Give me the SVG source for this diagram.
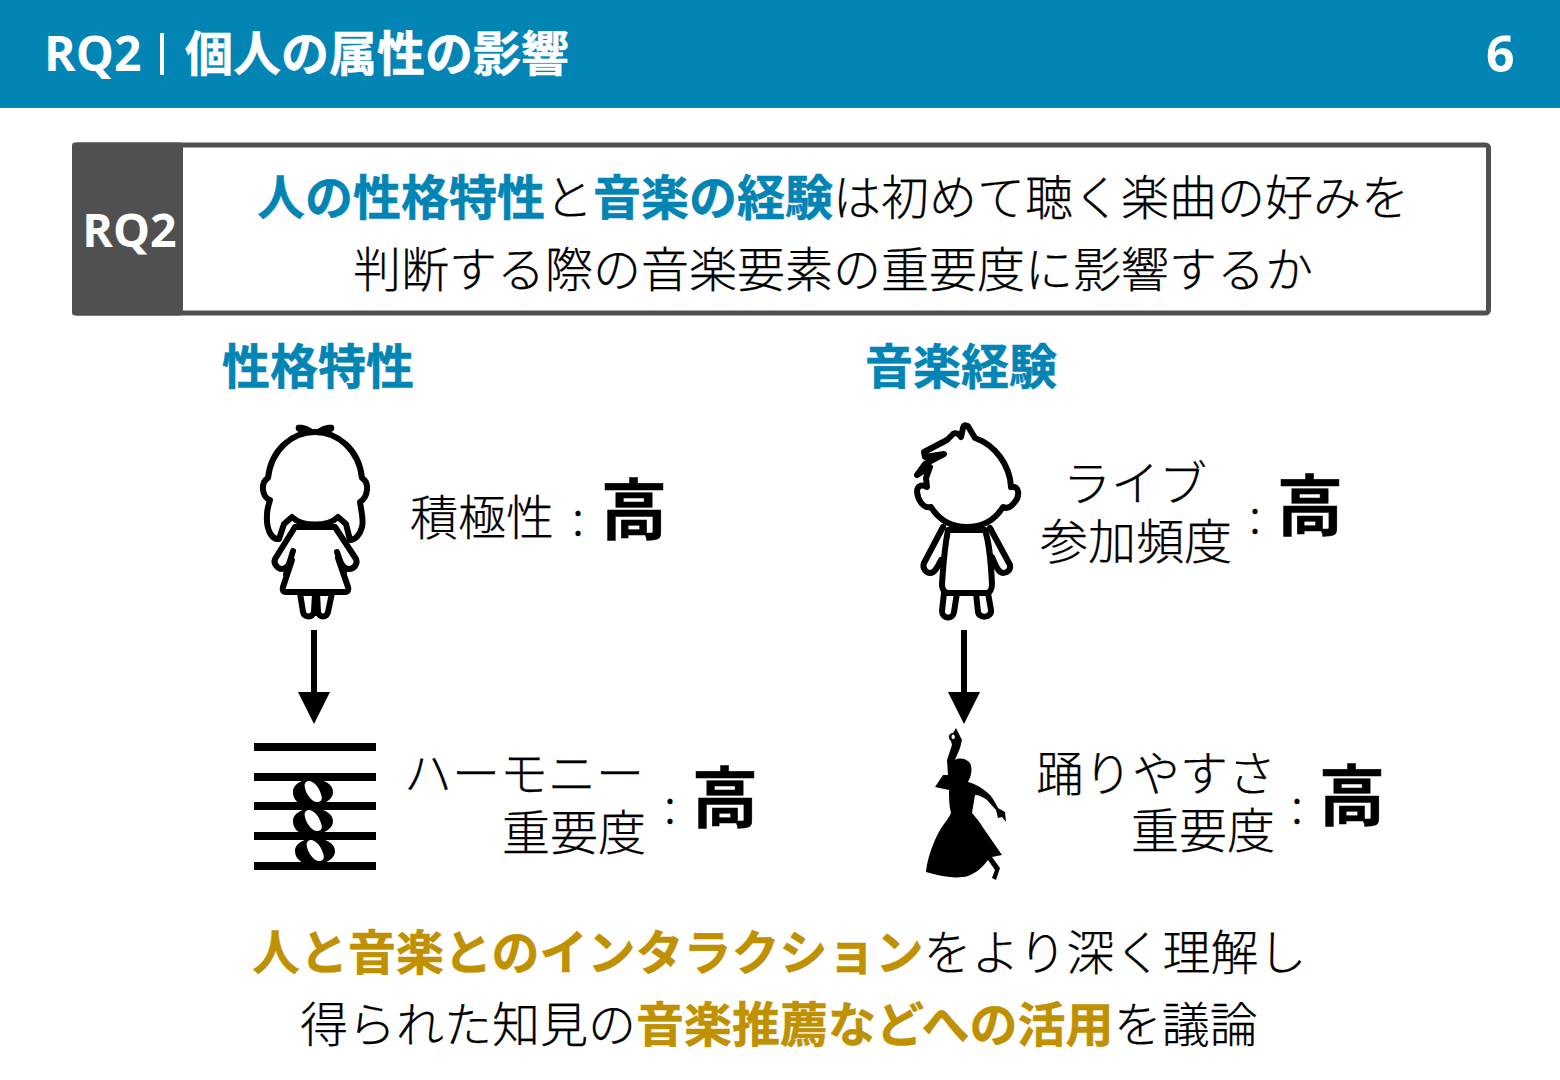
<svg xmlns="http://www.w3.org/2000/svg" width="1560" height="1080" viewBox="0 0 1560 1080">
<defs>
<style>
text{font-family:"Noto Sans CJK JP","Noto Sans",sans-serif;font-size:48px;font-weight:300;fill:#000;stroke:#000;stroke-width:.25px}
.w{fill:#fff;stroke:#fff;stroke-width:.5px;font-weight:700}
.blue{fill:#0284b5;stroke:#0284b5;stroke-width:.5px;font-weight:700}
.gold{fill:#bf9000;stroke:#bf9000;stroke-width:.5px;font-weight:700}
.hi{font-size:66px;font-weight:700;stroke:#000;stroke-width:.5px}
.lat{font-family:"Open Sans","Noto Sans CJK JP",sans-serif;font-weight:700;fill:#fff;stroke:none}
.ol{fill:#fff;stroke:#000;stroke-width:6;stroke-linejoin:round;stroke-linecap:round}
.ln{fill:none;stroke:#000;stroke-width:6;stroke-linejoin:round;stroke-linecap:round}
.arr{stroke:#000;stroke-width:6;fill:none}
</style>
<marker id="ah" markerUnits="userSpaceOnUse" markerWidth="32" markerHeight="34" refX="8" refY="16" orient="auto"><path d="M0 0L32 16L0 32Z" fill="#000"/></marker>
</defs>
<rect width="1560" height="1080" fill="#fff"/>
<g id="header">
<rect width="1560" height="108" fill="#0284b5"/>
<text class="lat" x="44" y="71" style="font-size:48px">RQ2</text>
<rect x="160" y="33" width="4" height="42" fill="#fff"/>
<text class="w" x="185" y="71">個人の属性の影響</text>
<text class="lat" x="1486" y="72" style="font-size:50px">6</text>
</g>
<g id="rq-box">
<rect x="74.500" y="145" width="1414" height="168" rx="3" fill="#fff" stroke="#505050" stroke-width="5"/>
<rect x="72" y="142.500" width="111" height="173" rx="3" fill="#505050"/>
<text class="lat" x="129.500" y="247" text-anchor="middle" style="font-size:46.500px">RQ2</text>
<text x="257" y="215"><tspan class="blue">人の性格特性</tspan>と<tspan class="blue">音楽の経験</tspan>は初めて聴く楽曲の好みを</text>
<text x="353" y="287">判断する際の音楽要素の重要度に影響するか</text>
</g>
<g id="heading-personality"><text class="blue" x="222" y="384">性格特性</text></g>
<g id="heading-music"><text class="blue" x="865" y="384">音楽経験</text></g>
<g id="girl">
<path class="ol" d="M295 527L275 559C273 564 278 569 282 569C286 569 289 565 292 560L283 587C282 590 283 592 286 592L345 592C348 592 349 590 348 587L338 558C341 564 344 569 349 569C354 569 358 564 356 559L335 527Z"/>
<path class="ln" d="M293 551L286 574M337 552L344 572"/>
<path class="ol" d="M300 593L303 612C304 618 313 618 314 612L315 593ZM317 593L318 612C319 618 327 618 328 612L332 593Z"/>
<path class="ol" d="M292 517L284 524L279 539C272 540 266 530 267 515C267 508 269 504 270 500C262 497 260 483 268 478C271 450 292 432 315 432C338 432 359 450 362 478C370 483 368 497 360 502C361 510 364 520 362 527C360 535 355 540 350 540L346 524L338 517C328 527 302 527 292 517Z"/>
<path d="M297 425C304 424 310 427 315 431C320 427 326 424 333 425C335 427 335 431 331 432C326 433 320 433 315 433C310 433 304 433 299 432C295 431 295 427 297 425Z" fill="#000"/>
</g>
<g id="boy">
<path class="ol" d="M943 527L924 563C922 568 926 573 930 573C935 573 938 566 941 560M990 528L1010 565C1011 570 1007 573 1003 573C998 573 995 564 992 557"/>
<path class="ol" d="M948 530C944 550 943 570 942 584C942 590 945 593 949 593L986 593C990 593 992 589 992 584C991 565 990 545 985 530Z"/>
<path class="ol" d="M944 593L942 611C942 619 953 620 954 612L957 593ZM976 593L978 612C979 619 992 618 991 610L988 593Z"/>
<path class="ol" d="M975 438C995 445 1010 465 1011 487C1020 485 1020 497 1014 503C1011 507 1007 509 1003 507C995 520 982 527 967 527C952 527 939 520 931 507C923 509 918 500 917 492C917 486 921 484 927 487L926 478L930 467L917 475L925 464L944 454L925 457L924 452L947 440L953 434C956 432 959 434 961 437L963 428C964 424 968 425 969 428Z"/>
</g>
<g id="staff">
<rect x="254" y="743" width="122" height="8" fill="#000"/>
<rect x="254" y="773" width="122" height="8" fill="#000"/>
<rect x="254" y="802" width="122" height="8" fill="#000"/>
<rect x="254" y="832" width="122" height="8" fill="#000"/>
<rect x="254" y="862" width="122" height="8" fill="#000"/>
<path fill-rule="evenodd" d="M313 779C304 779 293 783 293 792C293 804 306 807 313 806C322 805 333 801 333 792C333 783 322 779 313 779ZM308 781C313 780 319 787 321 794C323 800 321 802 317 802C312 802 306 794 305 788C304 784 305 782 308 781Z"/>
<path fill-rule="evenodd" d="M313 808C304 808 293 813 293 821C293 833 306 836 313 835C322 834 333 830 333 821C333 813 322 808 313 808ZM308 810C313 809 319 816 321 823C323 829 321 831 317 831C312 831 306 823 305 817C304 813 305 811 308 810Z"/>
<path fill-rule="evenodd" d="M315 838C306 838 295 843 295 851C295 862 308 866 315 865C324 864 335 860 335 851C335 843 324 838 315 838ZM310 840C315 839 321 846 323 853C325 859 323 861 319 861C314 861 308 853 307 847C306 843 307 841 310 840Z"/>
</g>
<g id="dancer">
<path fill-rule="evenodd" d="M956 728L962 740L960 748L955 760C960 757 967 759 970 763C973 769 971 777 968 782C975 784 982 787 990 795C994 800 996 804 998 808L1005 812L1006 822L1002 817L998 818L996 810L987 800C983 797 979 795 975 795L972 813C978 820 981 824 984 829L1002 855L992 857L1000 868L996 880L992 878L995 870L988 860C982 868 976 873 968 876C956 879 944 877 926 872C927 860 933 842 940 830C945 822 949 818 951 813C949 806 949 798 949 790L935 787L943 775L948 775L947 760L952 745L951 741C947 738 949 733 953 733ZM953 734.500C951 735 951 738.500 953 739C955.500 739 955.500 735 953 734.500Z"/>
</g>
<g id="connectors">
<line class="arr" x1="314" y1="630" x2="314" y2="700" marker-end="url(#ah)"/>
<line class="arr" x1="964" y1="630" x2="964" y2="700" marker-end="url(#ah)"/>
</g>
<g id="label-extraversion">
<text x="410" y="535">積極性</text><text x="578" y="535" text-anchor="middle">:</text><text class="hi" x="601" y="534">高</text>
</g>
<g id="label-live">
<text x="1063" y="501">ライブ</text><text x="1040" y="559">参加頻度</text><text x="1255" y="533" text-anchor="middle">:</text><text class="hi" x="1277" y="530">高</text>
</g>
<g id="label-harmony">
<text x="404" y="791">ハーモニー</text><text x="502" y="850">重要度</text><text x="670" y="823" text-anchor="middle">:</text><text class="hi" x="692" y="822">高</text>
</g>
<g id="label-danceability">
<text x="1036" y="791">踊りやすさ</text><text x="1131" y="848">重要度</text><text x="1297" y="823" text-anchor="middle">:</text><text class="hi" x="1319" y="820">高</text>
</g>
<g id="conclusion">
<text x="252" y="970"><tspan class="gold">人と音楽とのインタラクション</tspan>をより深く理解し</text>
<text x="300" y="1042">得られた知見の<tspan class="gold">音楽推薦などへの活用</tspan>を議論</text>
</g>
</svg>
